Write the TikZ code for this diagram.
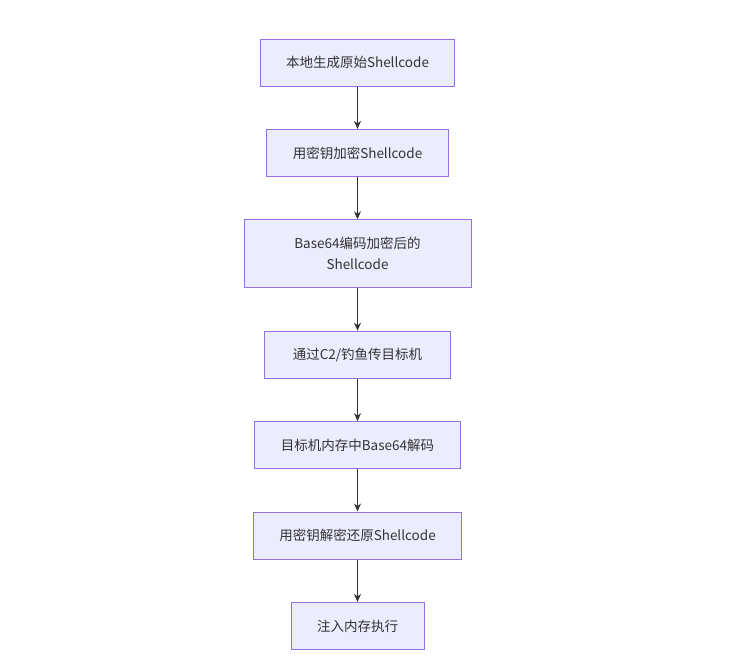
\documentclass[tikz,border=0pt]{standalone}
\usepackage{fontspec}
\setmainfont{Noto Sans CJK SC}
\usepackage{xcolor}
\usetikzlibrary{arrows.meta,positioning}
\definecolor{boxfill}{HTML}{ECECFF}
\definecolor{boxline}{HTML}{9370DB}
\definecolor{linkcol}{HTML}{333333}
\tikzset{
  flowbox/.style={
    rectangle, draw=boxline, fill=boxfill, line width=1pt,
    minimum height=47pt, inner xsep=26pt, inner ysep=4pt,
    align=center, font=\fontsize{13.5}{21}\selectfont, text=linkcol
  },
  flowarrow/.style={-{Stealth[length=8pt,width=7pt]}, line width=1pt, draw=linkcol},
}

\begin{document}
\begin{tikzpicture}[x=1pt, y=1pt, node distance=42.4pt]
  \useasboundingbox (0,0) rectangle (729,-664);
  \node (gen) [flowbox] at (357.5,-62.5) {本地生成原始Shellcode};
  \node (enc) [flowbox, below=of gen] {用密钥加密Shellcode};
  \node (b64) [flowbox, below=of enc, minimum width=227pt, minimum height=68pt] {Base64编码加密后的\\Shellcode};
  \node (send) [flowbox, below=of b64, inner xsep=28pt] {通过C2/钓鱼传目标机};
  \node (dec) [flowbox, below=of send] {目标机内存中Base64解码};
  \node (dcr) [flowbox, below=of dec] {用密钥解密还原Shellcode};
  \node (run) [flowbox, below=of dcr] {注入内存执行};
  \draw[flowarrow] (gen)--(enc); \draw[flowarrow] (enc)--(b64);
  \draw[flowarrow] (b64)--(send); \draw[flowarrow] (send)--(dec);
  \draw[flowarrow] (dec)--(dcr); \draw[flowarrow] (dcr)--(run);
\end{tikzpicture}
\end{document}
